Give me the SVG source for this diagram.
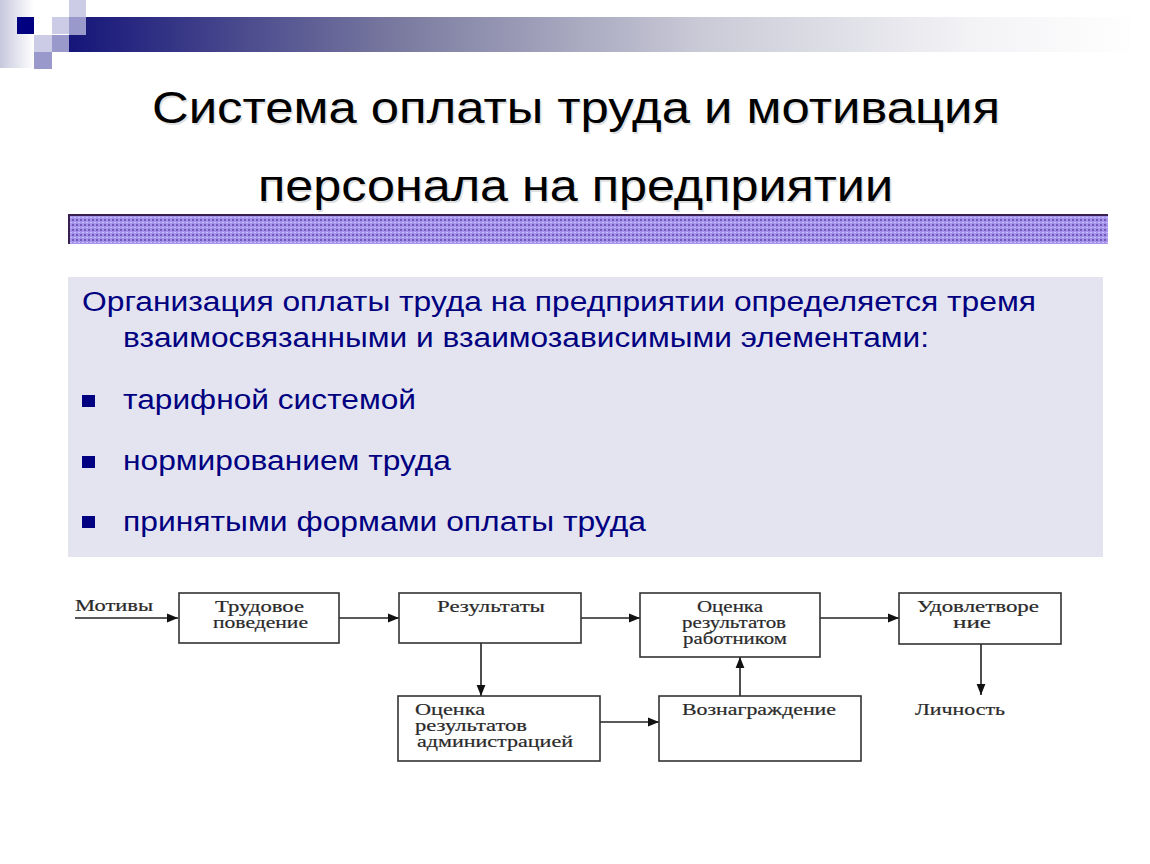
<svg xmlns="http://www.w3.org/2000/svg" width="1150" height="864" viewBox="0 0 1150 864">
<style>
.title{font-family:"Liberation Sans",Arial,sans-serif;font-size:44px;fill:#000}
.tshadow{font-family:"Liberation Sans",Arial,sans-serif;font-size:44px;fill:#999;opacity:0.3}
.body{font-family:"Liberation Sans",Arial,sans-serif;font-size:27px;fill:#000080}
.box{fill:#fff;stroke:#333;stroke-width:1.6}
.lbl{font-family:"Liberation Serif","Times New Roman",serif;font-size:16px;fill:#2a2a2a;stroke:#2a2a2a;stroke-width:0.2}
.conn{stroke:#222;stroke-width:1.6;fill:none}
</style>
<defs>
<linearGradient id="leftGrad" x1="0" y1="0" x2="1" y2="0">
<stop offset="0" stop-color="#c8c8de"/>
<stop offset="1" stop-color="#ffffff"/>
</linearGradient>
<linearGradient id="barGrad" gradientUnits="userSpaceOnUse" x1="69" y1="0" x2="1130" y2="0">
<stop offset="0" stop-color="#15157a"/>
<stop offset="0.31" stop-color="#7a7aa0"/>
<stop offset="0.6" stop-color="#cbcbd8"/>
<stop offset="0.85" stop-color="#f3f3f6"/>
<stop offset="1" stop-color="#fefefe"/>
</linearGradient>
<pattern id="purp" x="0" y="214" width="4" height="5" patternUnits="userSpaceOnUse">
<rect width="4" height="5" fill="#a594ec"/>
<rect x="0" y="0" width="2" height="2" fill="#7658b8"/>
<rect x="2" y="3" width="2" height="1" fill="#c8bcff"/>
</pattern>
<marker id="ah" viewBox="0 0 10 10" refX="10" refY="5" markerWidth="11" markerHeight="11" markerUnits="userSpaceOnUse" orient="auto">
<path d="M0,1 L10,5 L0,9 Z" fill="#111"/>
</marker>
</defs>
<rect width="1150" height="864" fill="#fff"/>
<g id="header-decor">
<rect x="0" y="0" width="34" height="68" fill="url(#leftGrad)"/>
<rect x="86" y="17" width="1044" height="18" fill="url(#barGrad)"/>
<rect x="69" y="35" width="1061" height="17" fill="url(#barGrad)"/>
<rect x="17" y="17" width="17" height="17" fill="#000080"/>
<rect x="52" y="17" width="17" height="17" fill="#ccccE6"/>
<rect x="69" y="0" width="17" height="17" fill="#ccccE6"/>
<rect x="69" y="17" width="17" height="18" fill="#9999cc"/>
<rect x="34" y="35" width="18" height="17" fill="#ccccE6"/>
<rect x="52" y="35" width="17" height="17" fill="#9999cc"/>
<rect x="34" y="52" width="18" height="17" fill="#9999cc"/>
</g>
<g id="title">
<text class="tshadow" x="153.5" y="124.5" textLength="848" lengthAdjust="spacingAndGlyphs">Система оплаты труда и мотивация</text>
<text class="title" x="152" y="123" textLength="848" lengthAdjust="spacingAndGlyphs">Система оплаты труда и мотивация</text>
<text class="tshadow" x="259.5" y="202.5" textLength="635" lengthAdjust="spacingAndGlyphs">персонала на предприятии</text>
<text class="title" x="258" y="201" textLength="635" lengthAdjust="spacingAndGlyphs">персонала на предприятии</text>
</g>
<g id="divider">
<rect x="68" y="214" width="1040" height="30" fill="url(#purp)"/>
<rect x="68" y="214" width="1040" height="2" fill="#3a2050"/>
<rect x="68" y="214" width="2" height="30" fill="#3a2050"/>
</g>
<g id="textbox">
<rect x="68" y="277" width="1035" height="280" fill="#e4e4f0"/>
<text class="body" x="82" y="311" textLength="954" lengthAdjust="spacingAndGlyphs">Организация оплаты труда на предприятии определяется тремя</text>
<text class="body" x="123" y="347" textLength="806" lengthAdjust="spacingAndGlyphs">взаимосвязанными и взаимозависимыми элементами:</text>
<rect x="82" y="395" width="13" height="12" fill="#000080"/>
<text class="body" x="123" y="409" textLength="293" lengthAdjust="spacingAndGlyphs">тарифной системой</text>
<rect x="82" y="456" width="13" height="12" fill="#000080"/>
<text class="body" x="123" y="470" textLength="328" lengthAdjust="spacingAndGlyphs">нормированием труда</text>
<rect x="82" y="516" width="13" height="12" fill="#000080"/>
<text class="body" x="123" y="531" textLength="523" lengthAdjust="spacingAndGlyphs">принятыми формами оплаты труда</text>
</g>
<g id="connectors">
<line class="conn" x1="75" y1="618" x2="178" y2="618" marker-end="url(#ah)"/>
<line class="conn" x1="339" y1="618" x2="399" y2="618" marker-end="url(#ah)"/>
<line class="conn" x1="581" y1="618" x2="640" y2="618" marker-end="url(#ah)"/>
<line class="conn" x1="820" y1="618" x2="899" y2="618" marker-end="url(#ah)"/>
<line class="conn" x1="481" y1="643" x2="481" y2="696" marker-end="url(#ah)"/>
<line class="conn" x1="981" y1="644" x2="981" y2="695" marker-end="url(#ah)"/>
<line class="conn" x1="740" y1="696" x2="740" y2="657" marker-end="url(#ah)"/>
<line class="conn" x1="600" y1="722" x2="659" y2="722" marker-end="url(#ah)"/>
</g>
<g id="motivy">
<text class="lbl" x="75" y="611" textLength="78" lengthAdjust="spacingAndGlyphs">Мотивы</text>
</g>
<g id="trudovoe">
<rect class="box" x="179" y="593" width="160" height="50"/>
<text class="lbl" x="215" y="612" textLength="89" lengthAdjust="spacingAndGlyphs">Трудовое</text>
<text class="lbl" x="213" y="628" textLength="95" lengthAdjust="spacingAndGlyphs">поведение</text>
</g>
<g id="rezultaty">
<rect class="box" x="399" y="593" width="182" height="50"/>
<text class="lbl" x="437" y="612" textLength="108" lengthAdjust="spacingAndGlyphs">Результаты</text>
</g>
<g id="ocenka-rabotnikom">
<rect class="box" x="640" y="593" width="180" height="64"/>
<text class="lbl" x="697" y="612" textLength="66" lengthAdjust="spacingAndGlyphs">Оценка</text>
<text class="lbl" x="682" y="628" textLength="104" lengthAdjust="spacingAndGlyphs">результатов</text>
<text class="lbl" x="683" y="644" textLength="104" lengthAdjust="spacingAndGlyphs">работником</text>
</g>
<g id="udovletvorenie">
<rect class="box" x="899" y="593" width="162" height="51"/>
<text class="lbl" x="917" y="612" textLength="122" lengthAdjust="spacingAndGlyphs">Удовлетворе</text>
<text class="lbl" x="953" y="628" textLength="38" lengthAdjust="spacingAndGlyphs">ние</text>
</g>
<g id="lichnost">
<text class="lbl" x="915" y="715" textLength="90" lengthAdjust="spacingAndGlyphs">Личность</text>
</g>
<g id="ocenka-administraciey">
<rect class="box" x="398" y="696" width="202" height="65"/>
<text class="lbl" x="415" y="715" textLength="70" lengthAdjust="spacingAndGlyphs">Оценка</text>
<text class="lbl" x="415" y="731" textLength="112" lengthAdjust="spacingAndGlyphs">результатов</text>
<text class="lbl" x="417" y="747" textLength="156" lengthAdjust="spacingAndGlyphs">администрацией</text>
</g>
<g id="voznagrazhdenie">
<rect class="box" x="659" y="696" width="202" height="65"/>
<text class="lbl" x="682" y="715" textLength="154" lengthAdjust="spacingAndGlyphs">Вознаграждение</text>
</g>
</svg>
